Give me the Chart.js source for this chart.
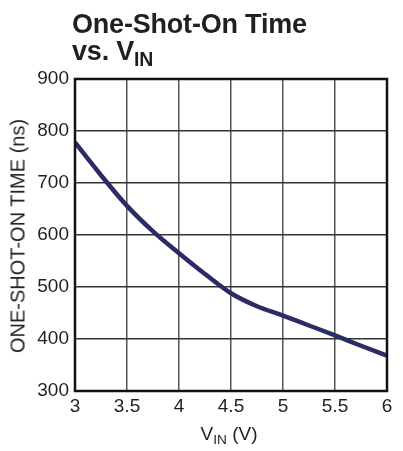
<!DOCTYPE html>
<html>
<head>
<meta charset="utf-8">
<script src="https://cdn.jsdelivr.net/npm/chart.js@4/dist/chart.umd.min.js"></script>
<style>
  html,body{margin:0;padding:0;background:#fff;}
  #wrap{position:relative;width:403px;height:451px;font-family:"Liberation Sans",Arial,sans-serif;color:#231f20;}
  #c{position:absolute;left:0;top:0;}
  .title{position:absolute;left:72px;top:11px;font-weight:bold;font-size:27px;line-height:27px;letter-spacing:-0.2px;}
  .title sub,.xt sub{font-size:0.72em;vertical-align:-0.3em;line-height:0;}
  .yt{position:absolute;left:18px;top:236px;font-size:20px;white-space:nowrap;transform:translate(-50%,-50%) rotate(-90deg);}
  .xt{position:absolute;left:229px;top:423px;font-size:19px;white-space:nowrap;transform:translateX(-50%);}
</style>
</head>
<body>
<div id="wrap">
  <canvas id="c" width="403" height="451"></canvas>
  <div class="title">One-Shot-On Time<br>vs. V<sub>IN</sub></div>
  <div class="yt">ONE-SHOT-ON TIME (ns)</div>
  <div class="xt">V<sub>IN</sub> (V)</div>
</div>
<script>
const vin = [3, 3.25, 3.5, 3.75, 4, 4.25, 4.5, 4.75, 5, 5.25, 5.5, 5.75, 6];
const tOn = [778, 715, 656, 607, 565, 525, 488, 463, 445, 426, 407, 387, 368];
const xTicks = [3, 3.5, 4, 4.5, 5, 5.5, 6];
const yTicks = [300, 400, 500, 600, 700, 800, 900];

const ink = '#231f20';
const tickFont = { family: 'Liberation Sans', size: 19 };

// plot frame on top of grid
const frame = {
  id: 'frame',
  afterDatasetsDraw(chart){
    const {ctx, chartArea:a} = chart;
    ctx.save();
    ctx.strokeStyle = '#111';
    ctx.lineWidth = 2.5;
    ctx.strokeRect(a.left, a.top, a.right - a.left, a.bottom - a.top);
    ctx.restore();
  }
};

new Chart(document.getElementById('c'), {
  type: 'line',
  data: {
    datasets: [{
      data: vin.map((x,i)=>({x, y: tOn[i]})),
      borderColor: '#2b2c66',
      borderWidth: 4.5,
      pointRadius: 0,
      tension: 0.4,
      cubicInterpolationMode: 'monotone',
      fill: false
    }]
  },
  options: {
    responsive: false,
    animation: false,
    layout: { padding: { left: 0, top: 79, right: 16, bottom: 0 } },
    plugins: { legend: { display: false }, tooltip: { enabled: false } },
    scales: {
      x: {
        type: 'linear', min: 3, max: 6,
        afterBuildTicks: s => { s.ticks = xTicks.map(v => ({ value: v })); },
        afterFit: s => { s.height = 60; },
        ticks: { color: ink, font: tickFont, padding: 4, maxRotation: 0,
                 callback: v => String(v) },
        grid: { color: '#555', lineWidth: 1.5, drawTicks: false },
        border: { display: false }
      },
      y: {
        min: 300, max: 900,
        afterBuildTicks: s => { s.ticks = yTicks.map(v => ({ value: v })); },
        afterFit: s => { s.width = 75; },
        ticks: { color: ink, font: tickFont, padding: 6 },
        grid: { color: '#333', lineWidth: 1.5, drawTicks: false },
        border: { display: false }
      }
    }
  },
  plugins: [frame]
});
</script>
</body>
</html>
